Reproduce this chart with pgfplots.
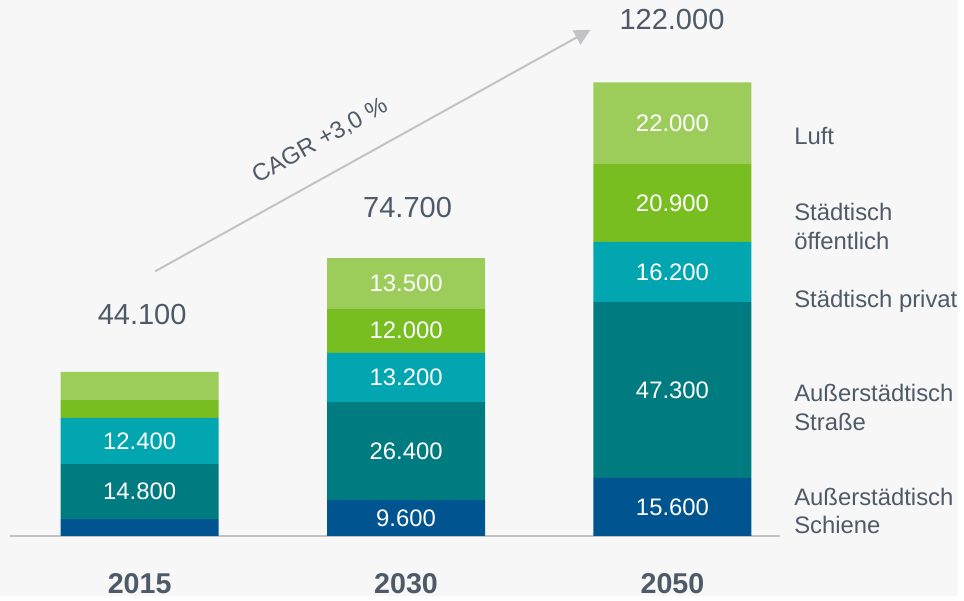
\documentclass[border=0pt]{standalone}
\usepackage{pgfplots}
\pgfplotsset{compat=1.18}
\usepackage{fontspec}
\setmainfont{Liberation Sans}
\usetikzlibrary{arrows.meta}
\definecolor{bg}{HTML}{F7F7F7}
\definecolor{txt}{HTML}{4F5A68}
\definecolor{cSchiene}{HTML}{00548F}
\definecolor{cStrasse}{HTML}{007C80}
\definecolor{cPrivat}{HTML}{02A6B1}
\definecolor{cOeff}{HTML}{78BE20}
\definecolor{cLuft}{HTML}{9CCD5A}
\definecolor{gline}{HTML}{C3C3C6}
\begin{document}
\begin{tikzpicture}
\fill[bg] (0pt,0pt) rectangle (482pt,300pt);
\begin{axis}[
  at={(5pt,30.5pt)}, anchor=south west,
  x=134pt, y=1.868852pt,
  xmin=-0.487, xmax=2.405, ymin=0, ymax=125,
  axis y line=none,
  axis x line=bottom,
  x axis line style={gline, line width=1pt, -},
  xtick={0,1,2}, xticklabels={2015,2030,2050},
  major tick length=0pt,
  xticklabel style={anchor=center, yshift=-24pt, text=txt, font=\bfseries\fontsize{14.4}{16}\selectfont},
  ybar stacked, bar width=79.5pt,
  clip=false,
  nodes near coords, point meta=explicit symbolic,
  every node near coord/.append style={font=\fontsize{12}{14}\selectfont, text=white, anchor=center},
]
\addplot[fill=cSchiene, draw=none] table[x=x,y=v,meta=l] {
x v l
0 4.5 {}
1 9.6 9.600
2 15.6 15.600
};
\addplot[fill=cStrasse, draw=none] table[x=x,y=v,meta=l] {
x v l
0 14.8 14.800
1 26.4 26.400
2 47.3 47.300
};
\addplot[fill=cPrivat, draw=none] table[x=x,y=v,meta=l] {
x v l
0 12.4 12.400
1 13.2 13.200
2 16.2 16.200
};
\addplot[fill=cOeff, draw=none] table[x=x,y=v,meta=l] {
x v l
0 4.8 {}
1 12.0 12.000
2 20.9 20.900
};
\addplot[fill=cLuft, draw=none] table[x=x,y=v,meta=l] {
x v l
0 7.6 {}
1 13.5 13.500
2 22.0 22.000
};
\end{axis}
\begin{scope}[x=0.5pt,y=0.5pt]
\begin{scope}[every node/.style={text=txt, font=\fontsize{14.6}{16}\selectfont}]
\node at (143,284) {44.100};
\node at (410,391) {74.700};
\node at (676,580) {122.000};
\end{scope}
\begin{scope}[every node/.style={text=txt, anchor=west, align=left, font=\fontsize{12}{14.25}\selectfont}]
\node at (792,463) {Luft};
\node at (792,372) {Städtisch\\öffentlich};
\node at (792,297) {Städtisch privat};
\node at (792,190) {Außerstädtisch\\Straße};
\node at (792,86) {Außerstädtisch\\Schiene};
\end{scope}
\draw[gline, line width=1pt, -{Triangle[length=8pt, width=8pt]}] (156,327) -- (594,570);
\node[rotate=29.2, text=txt, font=\fontsize{12}{14}\selectfont] at (322,458) {CAGR +3,0 \%};
\end{scope}
\end{tikzpicture}
\end{document}
